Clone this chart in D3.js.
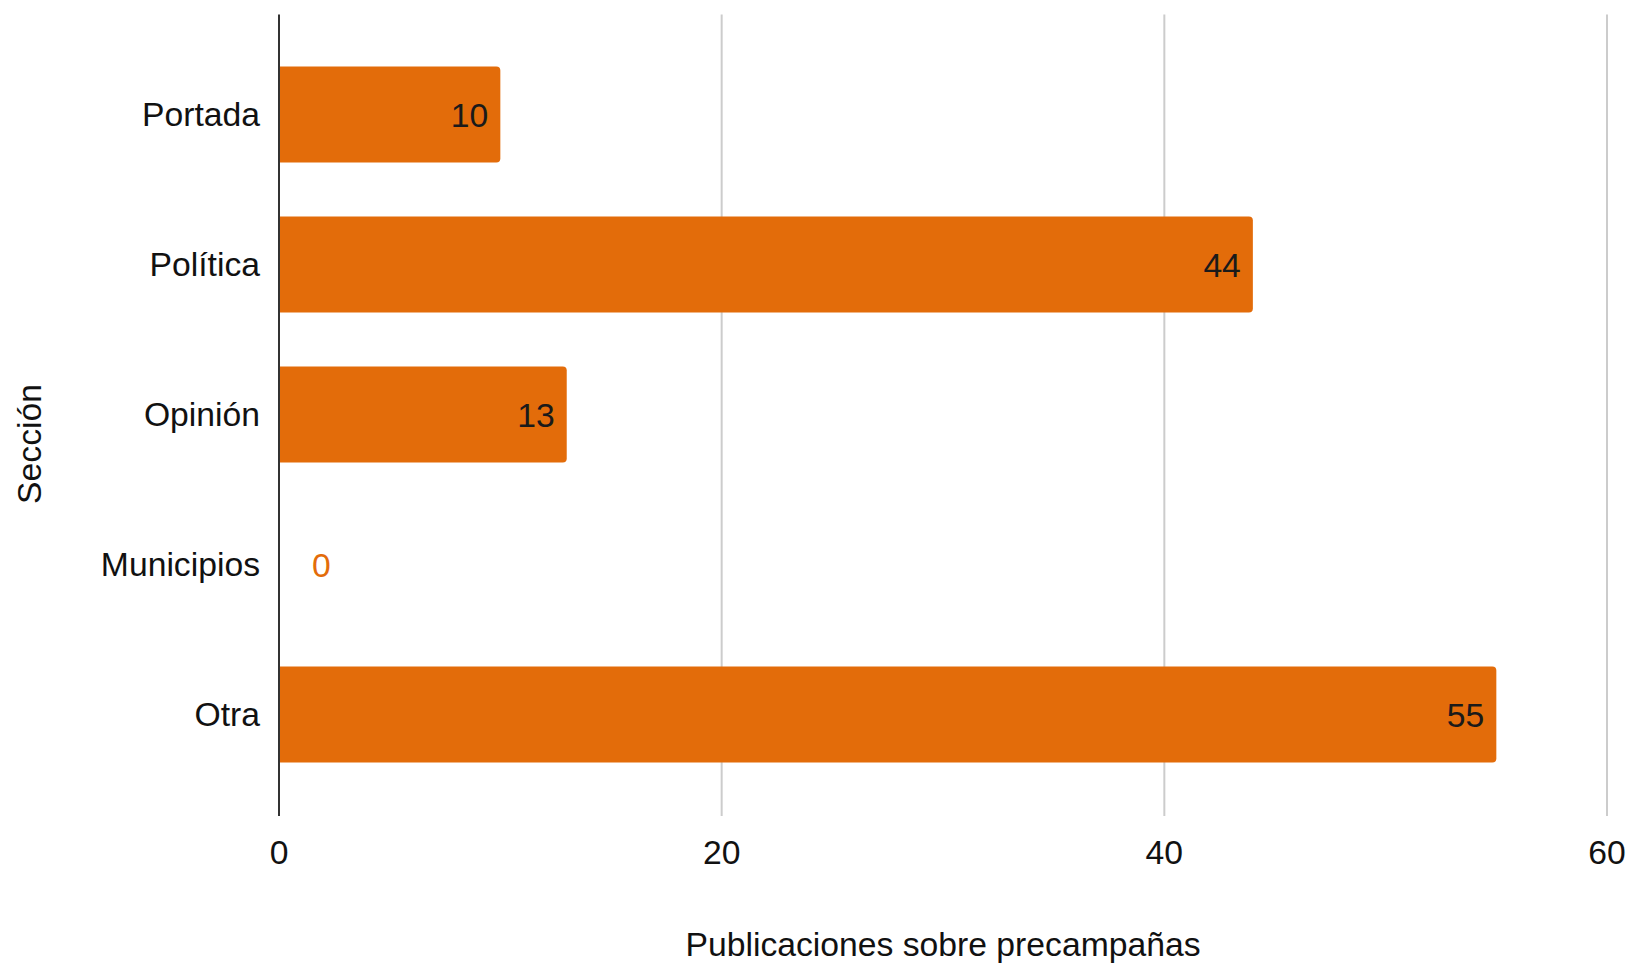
<!DOCTYPE html>
<html><head><meta charset="utf-8">
<script src="https://cdn.jsdelivr.net/npm/d3@7/dist/d3.min.js"></script>
<style>body{margin:0;background:#fff}svg{display:block}text{font-family:"Liberation Sans",Arial,sans-serif}</style>
</head><body><svg id="c" width="1631" height="964"></svg>
<script>
const categories = ["Portada", "Política", "Opinión", "Municipios", "Otra"];
const values = [10, 44, 13, 0, 55];
const xTicks = [0, 20, 40, 60];
const xTitle = "Publicaciones sobre precampañas";
const yTitle = "Sección";

const svg = d3.select("#c");
const barColor = "#e36c0a";
const fs = 33.7;
const x = d3.scaleLinear().domain([0, 60]).range([279, 1607]);
const y = d3.scaleBand().domain(categories).range([39.4, 789.4]).paddingInner(0.36).paddingOuter(0.18);
const plotTop = 14.6, plotBottom = 816;

// gridlines
svg.append("g").selectAll("line").data(xTicks.filter(d => d !== 0)).join("line")
  .attr("x1", d => x(d)).attr("x2", d => x(d)).attr("y1", plotTop).attr("y2", plotBottom)
  .attr("stroke", "#cccccc").attr("stroke-width", 2);

// bars with rounded right corners
const r = 4;
svg.append("g").selectAll("path").data(categories.map((c, i) => ({c, v: values[i]})).filter(d => d.v > 0)).join("path")
  .attr("fill", barColor)
  .attr("d", d => {
    const x0 = x(0), x1 = x(d.v), y0 = y(d.c), y1 = y0 + y.bandwidth();
    return `M${x0},${y0}H${x1 - r}Q${x1},${y0} ${x1},${y0 + r}V${y1 - r}Q${x1},${y1} ${x1 - r},${y1}H${x0}Z`;
  });

// axis line
svg.append("line").attr("x1", x(0)).attr("x2", x(0)).attr("y1", plotTop).attr("y2", plotBottom)
  .attr("stroke", "#333333").attr("stroke-width", 2);

// value labels
svg.append("g").selectAll("text").data(categories.map((c, i) => ({c, v: values[i]}))).join("text")
  .attr("x", d => d.v > 0 ? x(d.v) - 12 : x(0) + 33)
  .attr("y", d => y(d.c) + y.bandwidth() / 2)
  .attr("dy", "0.36em")
  .attr("text-anchor", d => d.v > 0 ? "end" : "start")
  .attr("font-size", fs)
  .attr("fill", d => d.v > 0 ? "#1a1a1a" : barColor)
  .text(d => d.v);

// category labels
svg.append("g").selectAll("text").data(categories).join("text")
  .attr("x", 260).attr("y", d => y(d) + y.bandwidth() / 2 - 1).attr("dy", "0.36em")
  .attr("text-anchor", "end").attr("font-size", fs).attr("fill", "#111")
  .text(d => d);

// x tick labels
svg.append("g").selectAll("text").data(xTicks).join("text")
  .attr("x", d => x(d)).attr("y", 852).attr("dy", "0.36em")
  .attr("text-anchor", "middle").attr("font-size", fs).attr("fill", "#111")
  .text(d => d);

// titles
svg.append("text").attr("x", 943).attr("y", 944).attr("dy", "0.36em")
  .attr("text-anchor", "middle").attr("font-size", fs).attr("fill", "#111").text(xTitle);
svg.append("text").attr("transform", "translate(29,444) rotate(-90)").attr("dy", "0.36em")
  .attr("text-anchor", "middle").attr("font-size", fs).attr("fill", "#111").text(yTitle);
</script></body></html>
